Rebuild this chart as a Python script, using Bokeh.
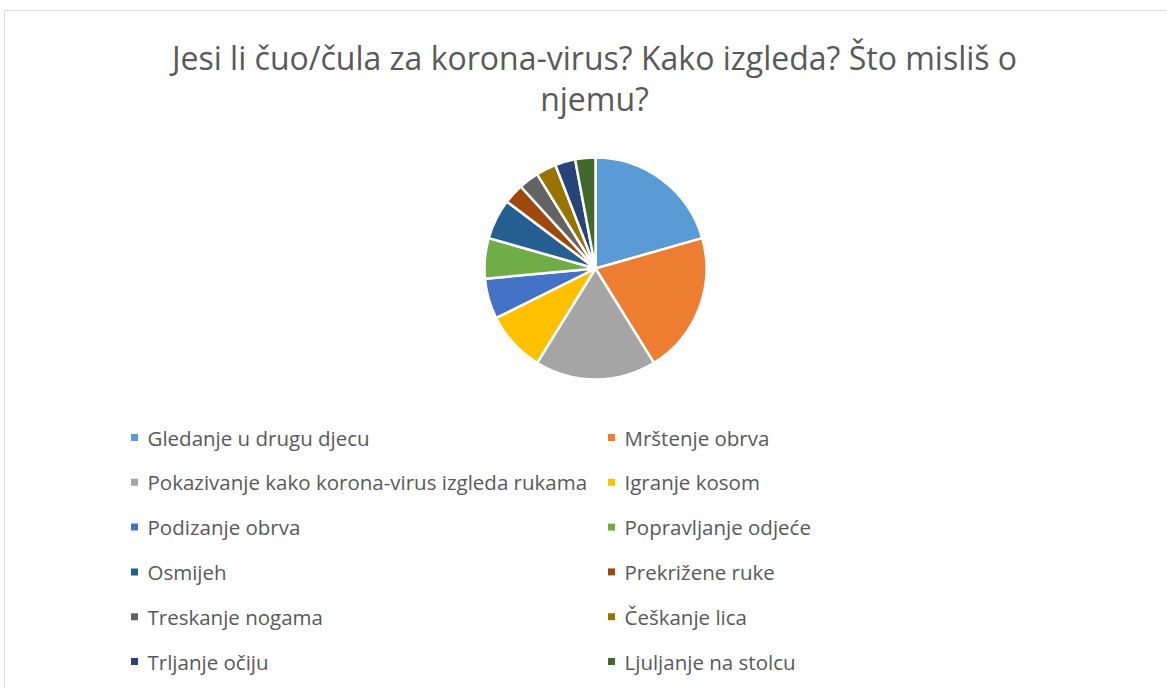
import numpy as np
from bokeh.plotting import figure
from bokeh.models import Range1d, ColumnDataSource
from bokeh.core.properties import value
from bokeh.embed import file_html
from bokeh.resources import INLINE

title_lines = ["Jesi li čuo/čula za korona-virus? Kako izgleda? Što misliš o", "njemu?"]
categories = ["Gledanje u drugu djecu", "Mrštenje obrva",
              "Pokazivanje kako korona-virus izgleda rukama", "Igranje kosom",
              "Podizanje obrva", "Popravljanje odjeće", "Osmijeh", "Prekrižene ruke",
              "Treskanje nogama", "Češkanje lica", "Trljanje očiju", "Ljuljanje na stolcu"]
counts = [7, 7, 6, 3, 2, 2, 2, 1, 1, 1, 1, 1]
colors = ["#5B9BD5", "#ED7D31", "#A5A5A5", "#FFC000", "#4472C4", "#70AD47",
          "#255E91", "#9E480E", "#636363", "#997300", "#264478", "#43682B"]

W, H = 1167, 688
FONT = "Open Sans"
TXT = "#595959"

p = figure(width=W, height=H, output_backend="svg", toolbar_location=None,
           x_range=Range1d(0, W), y_range=Range1d(0, H), min_border=0)
p.axis.visible = False
p.grid.visible = False
p.outline_line_color = None
p.background_fill_color = "white"

# chart border
p.line([4, 4, W + 5], [-5, H - 10, H - 10], line_color="#D9D9D9", line_width=1)

# pie
vals = np.array(counts, dtype=float)
frac = vals / vals.sum()
cum = np.concatenate([[0], np.cumsum(frac)])
start = np.pi / 2 - cum[:-1] * 2 * np.pi
end = np.pi / 2 - cum[1:] * 2 * np.pi
src = ColumnDataSource(dict(start=start, end=end, color=colors))
p.wedge(x=595, y=H - 268, radius=111, start_angle="start", end_angle="end",
        direction="clock", fill_color="color", line_color="white", line_width=2.5,
        source=src)

# title
p.text(x=[594, 594], y=[H - 57, H - 98], text=title_lines, text_align="center",
       text_baseline="middle", text_font=value(FONT), text_font_size="32px",
       text_color=TXT)

# legend
n = len(categories)
col = np.arange(n) % 2
row = np.arange(n) // 2
sx = np.where(col == 0, 134, 611)
sy = H - (437 + row * 44.8)
p.rect(x=sx, y=sy, width=7, height=7, fill_color=colors, line_color=None)
p.text(x=sx + 13, y=sy, text=categories, text_align="left", text_baseline="middle",
       text_font=value(FONT), text_font_size="20.5px", text_color=TXT)

open("out.html", "w").write(file_html(p, INLINE))
